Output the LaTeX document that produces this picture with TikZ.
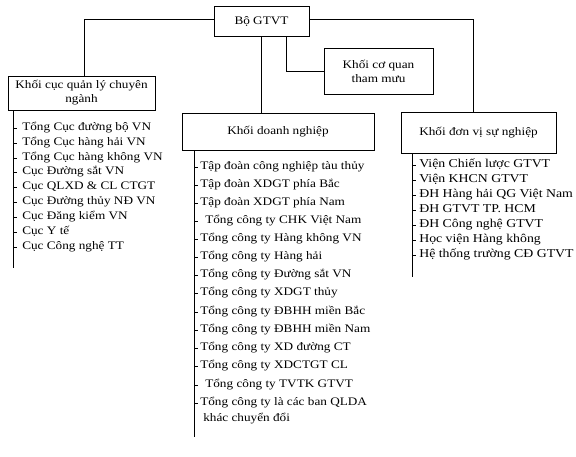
\documentclass[tikz,border=0pt]{standalone}
\usepackage{fontspec}
\setmainfont{Liberation Serif}[FakeStretch=1.15]
\usetikzlibrary{calc}

\begin{document}
\begin{tikzpicture}[x=1bp,y=-1bp,line width=0.6bp,
    box/.style={draw,rectangle,align=center,inner sep=2bp,font=\fontsize{11.5bp}{14bp}\selectfont},
    item/.style={anchor=west,inner sep=0pt,text height=8bp,text depth=2.5bp,font=\fontsize{11.5bp}{14bp}\selectfont}]
  \useasboundingbox (0,0) rectangle (576,457);
  % the five boxes
  \node[box,minimum width=95bp,minimum height=30bp] (bo) at (261.5,21) {Bộ GTVT};
  \node[box,minimum width=147bp,minimum height=34bp] (cuc) at (81.5,93) {Khối cục quản lý chuyên\\ngành};
  \node[box,minimum width=109bp,minimum height=46bp] (coquan) at (378.5,71) {Khối cơ quan\\tham mưu};
  \node[box,minimum width=192bp,minimum height=37bp] (dn) at (278,131.5) {Khối doanh nghiệp};
  \node[box,minimum width=155bp,minimum height=41bp] (dv) at (478.5,132.5) {Khối đơn vị sự nghiệp};
  \draw ([yshift=2bp]bo.west) -| ([xshift=2.5bp]cuc.north);
  \draw (bo.south) -- (bo.south |- dn.north);
  \draw ([xshift=25bp]bo.south) |- (coquan.west);
  \draw ([yshift=2bp]bo.east) -| ([xshift=-5.5bp]dv.north);
  % khoi cuc
  \coordinate (cucbot) at (13,268);
  \draw (cucbot |- cuc.south) -- (cucbot);
  \node[item] (c1) at (22,128) {Tổng Cục đường bộ VN};
  \node[item] (c2) at (22,143) {Tổng Cục hàng hải VN};
  \node[item] (c3) at (22,158) {Tổng Cục hàng không VN};
  \node[item] (c4) at (22,172) {Cục Đường sắt VN};
  \node[item] (c5) at (22,187) {Cục QLXD \& CL CTGT};
  \node[item] (c6) at (22,202) {Cục Đường thủy NĐ VN};
  \node[item] (c7) at (22,217) {Cục Đăng kiểm VN};
  \node[item] (c8) at (22,232) {Cục Y tế};
  \node[item] (c9) at (22,247) {Cục Công nghệ TT};
  \draw (c1.west -| cucbot) -- ++(4,0);
  \draw (c2.west -| cucbot) -- ++(4,0);
  \draw (c3.west -| cucbot) -- ++(4,0);
  \draw (c4.west -| cucbot) -- ++(4,0);
  \draw (c5.west -| cucbot) -- ++(4,0);
  \draw (c6.west -| cucbot) -- ++(4,0);
  \draw (c7.west -| cucbot) -- ++(4,0);
  \draw (c8.west -| cucbot) -- ++(4,0);
  \draw (c9.west -| cucbot) -- ++(4,0);
  % khoi doanh nghiep
  \coordinate (dnbot) at (194,437);
  \draw (dnbot |- dn.south) -- (dnbot);
  \node[item] (d1) at (200,167) {Tập đoàn công nghiệp tàu thủy};
  \node[item] (d2) at (200,185) {Tập đoàn XDGT phía Bắc};
  \node[item] (d3) at (200,203) {Tập đoàn XDGT phía Nam};
  \node[item] (d4) at (205,221) {Tổng công ty CHK Việt Nam};
  \node[item] (d5) at (200,239) {Tổng công ty Hàng không VN};
  \node[item] (d6) at (200,257) {Tổng công ty Hàng hải};
  \node[item] (d7) at (200,275) {Tổng công ty Đường sắt VN};
  \node[item] (d8) at (200,293) {Tổng công ty XDGT thủy};
  \node[item] (d9) at (200,312) {Tổng công ty ĐBHH miền Bắc};
  \node[item] (d10) at (200,330) {Tổng công ty ĐBHH miền Nam};
  \node[item] (d11) at (200,348) {Tổng công ty XD đường CT};
  \node[item] (d12) at (200,366) {Tổng công ty XDCTGT CL};
  \node[item] (d13) at (205,385) {Tổng công ty TVTK GTVT};
  \node[item] (d14) at (200,403) {Tổng công ty là các ban QLDA};
  \node[item] (d15) at (203,419) {khác chuyển đổi};
  \draw (d1.west -| dnbot) -- ++(4,0);
  \draw (d2.west -| dnbot) -- ++(4,0);
  \draw (d3.west -| dnbot) -- ++(4,0);
  \draw (d4.west -| dnbot) -- ++(4,0);
  \draw (d5.west -| dnbot) -- ++(4,0);
  \draw (d6.west -| dnbot) -- ++(4,0);
  \draw (d7.west -| dnbot) -- ++(4,0);
  \draw (d8.west -| dnbot) -- ++(4,0);
  \draw (d9.west -| dnbot) -- ++(4,0);
  \draw (d10.west -| dnbot) -- ++(4,0);
  \draw (d11.west -| dnbot) -- ++(4,0);
  \draw (d12.west -| dnbot) -- ++(4,0);
  \draw (d13.west -| dnbot) -- ++(4,0);
  \draw (d14.west -| dnbot) -- ++(4,0);
  % khoi don vi su nghiep
  \coordinate (dvbot) at (412,277);
  \draw (dvbot |- dv.south) -- (dvbot);
  \node[item,font=\fontsize{12bp}{14bp}\selectfont] (v1) at (419,165) {Viện Chiến lược GTVT};
  \node[item,font=\fontsize{12bp}{14bp}\selectfont] (v2) at (419,180) {Viện KHCN GTVT};
  \node[item,font=\fontsize{12bp}{14bp}\selectfont] (v3) at (419,195) {ĐH Hàng hải QG Việt Nam};
  \node[item,font=\fontsize{12bp}{14bp}\selectfont] (v4) at (419,210) {ĐH GTVT TP. HCM};
  \node[item,font=\fontsize{12bp}{14bp}\selectfont] (v5) at (419,225) {ĐH Công nghệ GTVT};
  \node[item,font=\fontsize{12bp}{14bp}\selectfont] (v6) at (419,240) {Học viện Hàng không};
  \node[item,font=\fontsize{12bp}{14bp}\selectfont] (v7) at (419,255) {Hệ thống trường CĐ GTVT};
  \draw (v1.west -| dvbot) -- ++(4,0);
  \draw (v2.west -| dvbot) -- ++(4,0);
  \draw (v3.west -| dvbot) -- ++(4,0);
  \draw (v4.west -| dvbot) -- ++(4,0);
  \draw (v5.west -| dvbot) -- ++(4,0);
  \draw (v6.west -| dvbot) -- ++(4,0);
  \draw (v7.west -| dvbot) -- ++(4,0);
\end{tikzpicture}
\end{document}
